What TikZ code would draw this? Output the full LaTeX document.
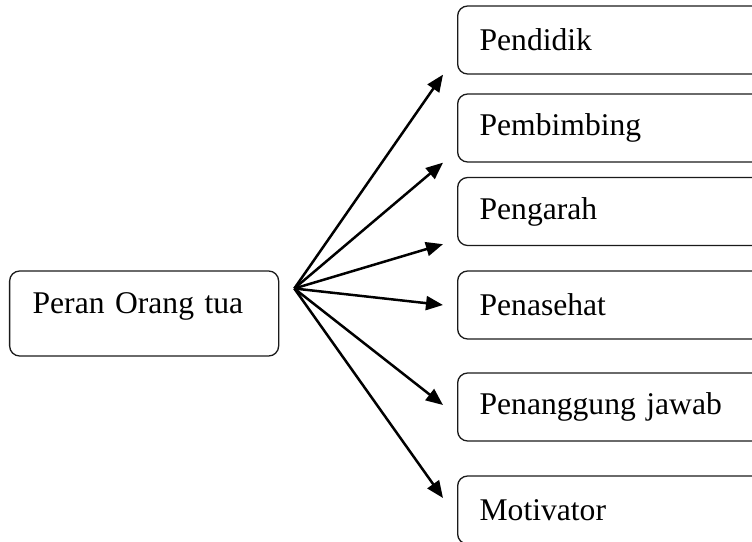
\documentclass[tikz,border=0pt]{standalone}
\usepackage{fontspec}
\setmainfont{Liberation Serif}
\usepackage{tikz}
\usetikzlibrary{arrows.meta, positioning, calc}
\definecolor{colLine}{HTML}{1A1A1A}
\tikzset{
  role/.style={
    draw=colLine, rounded corners=5pt,
    line width=0.65pt, align=left,
    font=\fontsize{15.8}{19}\selectfont
  },
  mainbox/.style={role, anchor=west, text width=111.5pt,
    inner xsep=11.5pt, minimum height=42.5pt,
    text height=11pt, text depth=11pt},
  subbox/.style={role, anchor=west, text width=170pt,
    inner xsep=11pt, minimum height=34pt},
  fanarr/.style={
    -{Triangle[length=8.5pt,width=7pt]},
    line width=1.25pt, draw=black
  }
}

\begin{document}
\begin{tikzpicture}[x=0.5pt, y=-0.5pt]
  \useasboundingbox (0,0) rectangle (752,542);
  \clip (0,0) rectangle (752,542);

  %% ── Left: main role ─────────────────────────────────────────
  \node[mainbox] (peran) at (9,313.5) {Peran Orang tua};
  \coordinate (fan) at ($(peran.east)+(15,-25)$);

  %% ── Right column: the six roles ─────────────────────────────
  \node[subbox] (pendidik)   at (457,40)    {Pendidik};
  \node[subbox] (pembimbing) at (457,128)   {Pembimbing};
  \node[subbox] (pengarah)   at (457,211.5) {Pengarah};
  \node[subbox] (penasehat)  at (457,305)   {Penasehat};
  \node[subbox] (penanggung) at (457,407)   {Penanggung jawab};
  \node[subbox] (motivator)  at (457,510)   {Motivator};

  %% ── Fan of arrows ───────────────────────────────────────────
  \draw[fanarr] (fan) -- ($(pendidik.south west)+(-14,0)$);
  \draw[fanarr] (fan) -- ($(pembimbing.south west)+(-14,0)$);
  \draw[fanarr] (fan) -- ($(pengarah.south west)+(-14,-2)$);
  \draw[fanarr] (fan) -- ($(penasehat.west)+(-14,0)$);
  \draw[fanarr] (fan) -- ($(penanggung.west)+(-14,-2)$);
  \draw[fanarr] (fan) -- ($(motivator.west)+(-14,-12)$);
\end{tikzpicture}
\end{document}
